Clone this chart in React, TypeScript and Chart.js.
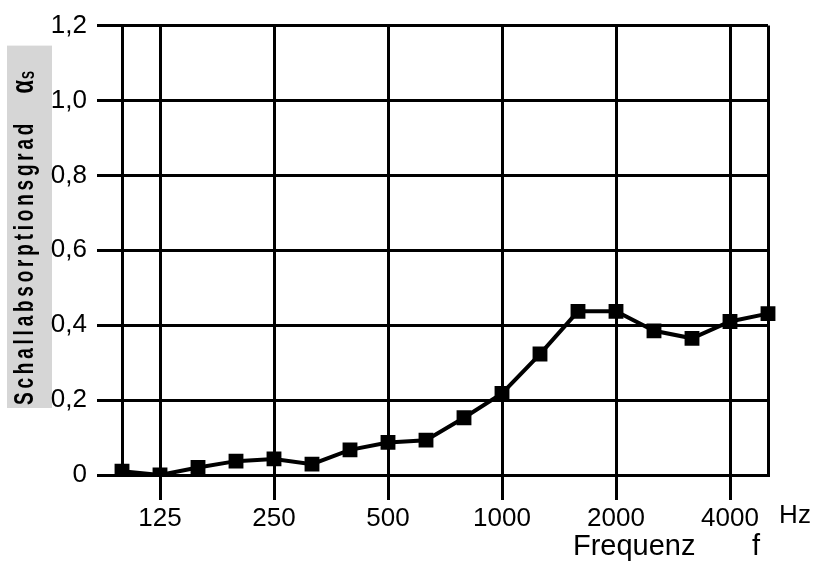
import React, { useEffect, useRef } from 'react';
import { Chart, registerables } from 'chart.js';

Chart.register(...registerables);

// ---- data ----
const frequencies = ['100', '125', '160', '200', '250', '315', '400', '500', '630', '800', '1000', '1250', '1600', '2000', '2500', '3150', '4000', '5000'];
const absorption = [0.01, 0.0, 0.02, 0.037, 0.043, 0.029, 0.067, 0.087, 0.093, 0.153, 0.218, 0.323, 0.437, 0.437, 0.385, 0.365, 0.41, 0.431];
const labeledFrequencies = ['125', '250', '500', '1000', '2000', '4000'];
const gridFrequencies = ['100', '125', '250', '500', '1000', '2000', '4000', '5000'];
const yMin = 0;
const yMax = 1.2;
const yStep = 0.2;
const yTitle = 'Schallabsorptionsgrad';
const ySymbol = 'α';
const ySymbolSub = 'S';
const xTitle = 'Frequenz       f ';
const xUnit = 'Hz';

const FONT = '"Liberation Sans", Arial, Helvetica, sans-serif';
const TICK_LEN = 25;
const X_TICK_PAD = 3;

const annotationPlugin = {
  id: 'extraLabels',
  beforeDraw(chart: any) {
    const { ctx, chartArea } = chart;
    ctx.save();
    ctx.fillStyle = '#d6d6d6';
    const top = chartArea.top + 20;
    const bottom = chartArea.bottom - 67;
    ctx.fillRect(7, top, 45, bottom - top);
    ctx.restore();
  },
  afterDraw(chart: any) {
    const { ctx, chartArea, scales } = chart;
    // Hz unit label
    ctx.save();
    ctx.font = `26px ${FONT}`;
    ctx.fillStyle = '#000';
    ctx.textAlign = 'center';
    ctx.textBaseline = 'top';
    ctx.fillText(xUnit, chartArea.right + 27, scales.x.top + TICK_LEN + X_TICK_PAD);
    ctx.restore();

    // rotated y title
    ctx.save();
    const baseX = 33;
    const startY = chartArea.bottom - 70;
    const endY = chartArea.top + 98;
    const targetLen = startY - endY;
    ctx.translate(baseX, startY);
    ctx.rotate(-Math.PI / 2);
    ctx.scale(1, 1.45);
    ctx.fillStyle = '#000';
    ctx.textAlign = 'left';
    ctx.textBaseline = 'alphabetic';
    ctx.font = `bold 19px ${FONT}`;
    const chars = Array.from(yTitle);
    const natural = chars.reduce((s, c) => s + ctx.measureText(c).width, 0);
    const spacing = (targetLen - natural) / (chars.length - 1);
    let cx = 0;
    for (const c of chars) {
      ctx.fillText(c, cx, 0);
      cx += ctx.measureText(c).width + spacing;
    }
    // alpha with subscript S
    const symX = startY - (chartArea.top + 68);
    ctx.font = `bold 22px ${FONT}`;
    ctx.fillText(ySymbol, symX, 0);
    const aw = ctx.measureText(ySymbol).width;
    ctx.font = `bold 12px ${FONT}`;
    ctx.fillText(ySymbolSub, symX + aw + 1, 1);
    ctx.restore();
  },
};

export default function App() {
  const canvasRef = useRef<HTMLCanvasElement | null>(null);

  useEffect(() => {
    if (!canvasRef.current) return;
    const chart = new Chart(canvasRef.current, {
      type: 'line',
      data: {
        labels: frequencies,
        datasets: [
          {
            data: absorption,
            borderColor: '#000',
            backgroundColor: '#000',
            borderWidth: 4,
            tension: 0,
            pointStyle: 'rect',
            pointRadius: 10.5,
            pointBorderWidth: 0,
            pointBackgroundColor: '#000',
          },
        ],
      },
      options: {
        animation: false,
        responsive: false,
        devicePixelRatio: 1,
        layout: { padding: { top: 23, right: 47, left: 0, bottom: 0 } },
        plugins: {
          legend: { display: false },
          tooltip: { enabled: false },
        },
        scales: {
          x: {
            type: 'category',
            offset: false,
            afterFit: (scale: any) => {
              scale.height = 89;
            },
            grid: {
              display: true,
              drawOnChartArea: true,
              drawTicks: true,
              tickLength: TICK_LEN,
              lineWidth: 3,
              color: (ctx: any) => (gridFrequencies.includes(frequencies[ctx.index]) ? '#000' : 'rgba(0,0,0,0)'),
              tickColor: (ctx: any) => (labeledFrequencies.includes(frequencies[ctx.index]) ? '#000' : 'rgba(0,0,0,0)'),
            },
            border: { display: true, color: '#000', width: 3 },
            ticks: {
              autoSkip: false,
              maxRotation: 0,
              minRotation: 0,
              padding: X_TICK_PAD,
              color: '#000',
              font: { family: FONT, size: 26 },
              callback: (_v: any, index: number) =>
                labeledFrequencies.includes(frequencies[index]) ? frequencies[index] : '',
            },
            title: {
              display: true,
              text: xTitle,
              align: 'end',
              color: '#000',
              font: { family: FONT, size: 29 },
              padding: { top: 0, bottom: 0 },
            },
          },
          y: {
            min: yMin,
            max: yMax,
            afterFit: (scale: any) => {
              scale.width = 122;
            },
            grid: {
              color: '#000',
              lineWidth: 3,
              tickLength: TICK_LEN,
              tickColor: '#000',
            },
            border: { display: true, color: '#000', width: 3 },
            ticks: {
              stepSize: yStep,
              padding: 10,
              color: '#000',
              font: { family: FONT, size: 26 },
              callback: (v: any) => (Number(v) === 0 ? '0' : Number(v).toFixed(1).replace('.', ',')),
            },
          },
        },
      },
      plugins: [annotationPlugin],
    } as any);
    return () => chart.destroy();
  }, []);

  return (
    <div style={{ position: 'fixed', left: 0, top: 0, width: 815, height: 564, background: '#fff' }}>
      <canvas ref={canvasRef} width={815} height={564} style={{ width: 815, height: 564, display: 'block' }} />
    </div>
  );
}
